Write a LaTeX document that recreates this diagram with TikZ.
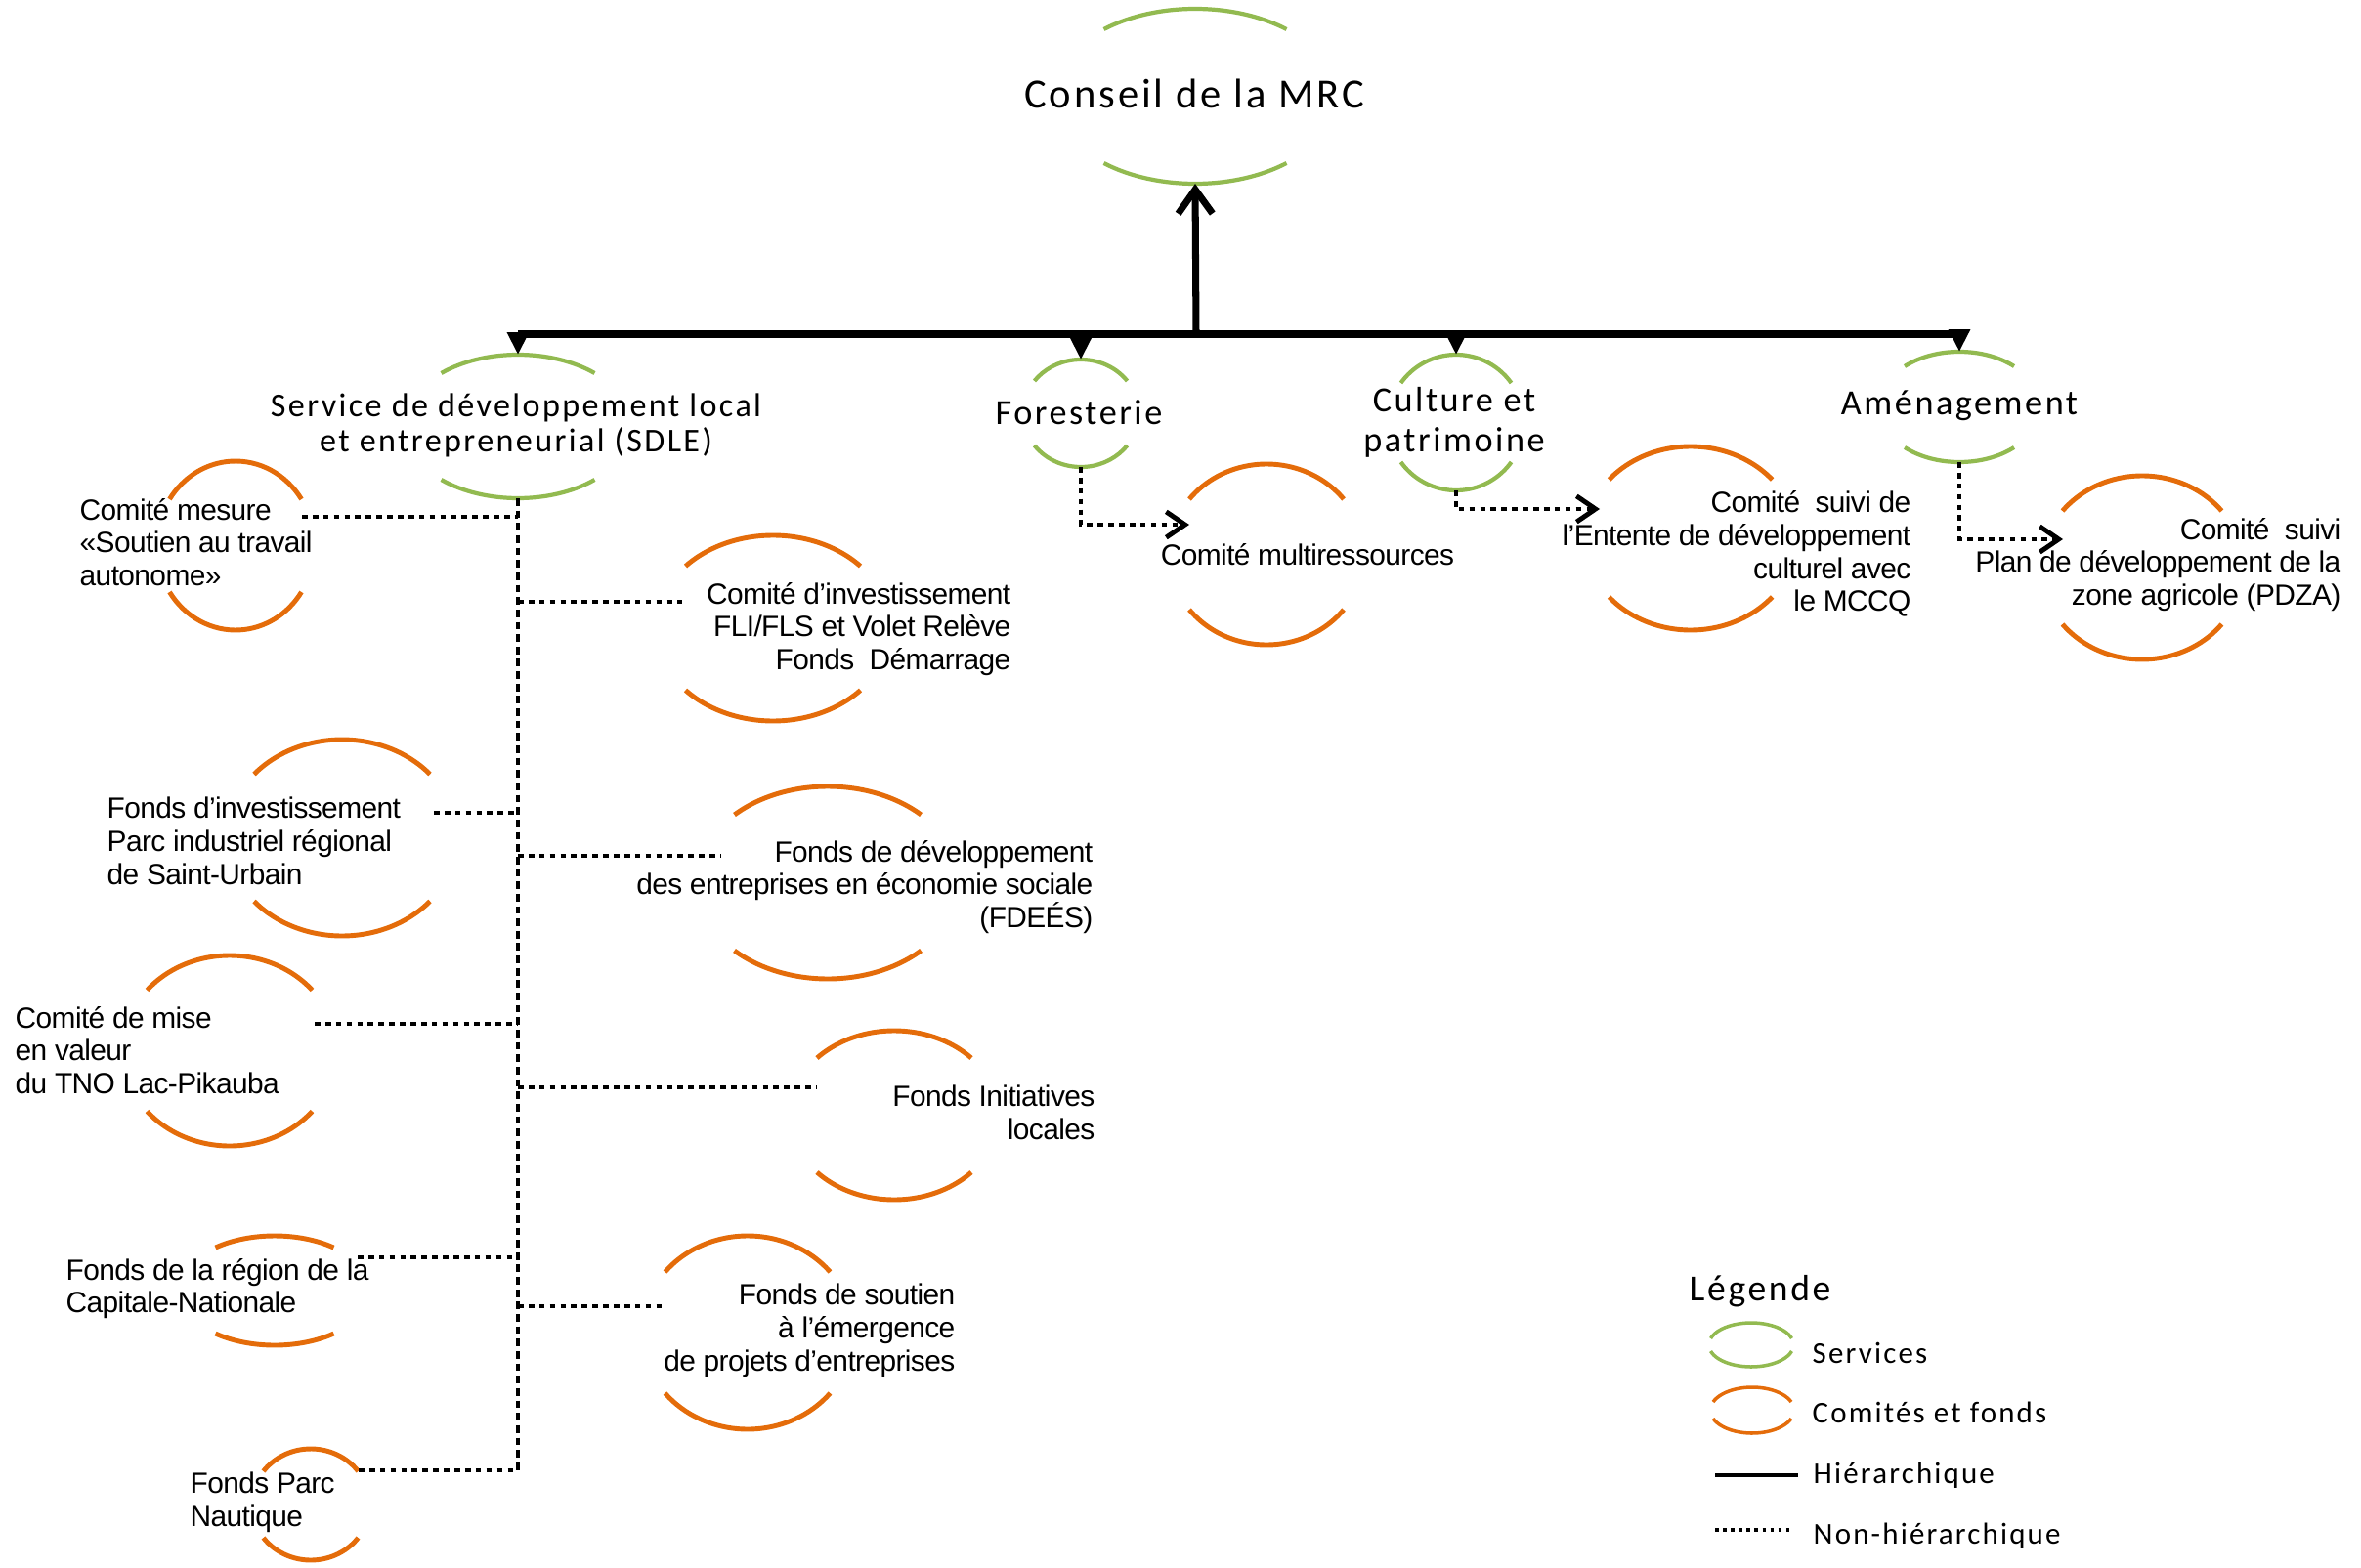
\documentclass[tikz,border=0pt]{standalone}
\usepackage{fontspec}
\usetikzlibrary{arrows.meta,calc}
\newfontfamily\calib[LetterSpace=7]{Carlito}
\newfontfamily\arialf[LetterSpace=-2]{Liberation Sans}
\definecolor{sgreen}{RGB}{146,186,80}
\definecolor{sorange}{RGB}{228,108,10}
% #1 name, #2 cx, #3 cy, #4 half width, #5 ry, #6 sagitta, #7 style
\newcommand{\lensarcs}[7]{%
  \pgfmathsetmacro{\lensphi}{acos((#5-#6)/#5)}%
  \pgfmathsetmacro{\lensrx}{#4/sin(\lensphi)}%
  \coordinate (#1) at (#2,#3);
  \draw[#7] (#1) ++({90-\lensphi}:{\lensrx} and {#5}) arc[start angle={90-\lensphi}, end angle={90+\lensphi}, x radius=\lensrx, y radius=#5];
  \draw[#7] (#1) ++({270-\lensphi}:{\lensrx} and {#5}) arc[start angle={270-\lensphi}, end angle={270+\lensphi}, x radius=\lensrx, y radius=#5];
  \coordinate (#1-n) at ($(#1)+(0,#5)$);
  \coordinate (#1-s) at ($(#1)-(0,#5)$);
}
\tikzset{
  grn/.style={draw=sgreen, line width=1.2pt},
  org/.style={draw=sorange, line width=1.4pt},
  hier/.style={line width=2pt, draw=black},
  nonhier/.style={line width=1.4pt, draw=black, dash pattern=on 1.6pt off 1.5pt},
  gtext/.style={font={\calib\fontsize{10.3pt}{11.7pt}\selectfont}, inner sep=0pt, align=center, text=black},
  otext/.style={font={\arialf\fontsize{8.5pt}{9.6pt}\selectfont}, inner sep=0pt, text=black},
  ltext/.style={font={\calib\fontsize{8.8pt}{10pt}\selectfont}, inner sep=0pt, anchor=west, text=black},
  downtip/.style={-{Triangle[length=6.5pt,width=6pt]}},
  chev/.style={-{Straight Barb[length=5.5pt,width=7.5pt]}},
}
\begin{document}
\begin{tikzpicture}
\useasboundingbox (0,0) rectangle (24.16,-16.05);

% ---------- services (green) ----------
\lensarcs{conseil}{12.23}{-0.985}{0.935}{0.895}{0.21}{grn}
\lensarcs{sdle}{5.30}{-4.365}{0.785}{0.735}{0.19}{grn}
\lensarcs{forest}{11.06}{-4.23}{0.475}{0.55}{0.22}{grn}
\lensarcs{culture}{14.90}{-4.325}{0.565}{0.695}{0.29}{grn}
\lensarcs{amenag}{20.05}{-4.165}{0.56}{0.565}{0.15}{grn}

\node[gtext, font={\calib\fontsize{12.1pt}{14pt}\selectfont}] (t-conseil) at (12.22,-0.96) {Conseil de la MRC};
\node[gtext, font={\calib\fontsize{9.7pt}{10.2pt}\selectfont}] (t-sdle) at (5.28,-4.35) {Service de développement local\\et entrepreneurial (SDLE)};
\node[gtext] (t-forest) at (11.04,-4.22) {Foresterie};
\node[gtext] (t-culture) at (14.88,-4.32) {Culture et\\patrimoine};
\node[gtext] (t-amenag) at (20.05,-4.15) {Aménagement};

% ---------- comités et fonds (orange) ----------
\lensarcs{cm}{2.41}{-5.585}{0.675}{0.865}{0.39}{org}
\lensarcs{cfli}{7.91}{-6.43}{0.895}{0.95}{0.315}{org}
\lensarcs{fipi}{3.50}{-8.575}{0.90}{1.005}{0.355}{org}
\lensarcs{fdees}{8.47}{-9.035}{0.955}{0.985}{0.29}{org}
\lensarcs{cmv}{2.35}{-10.755}{0.845}{0.975}{0.355}{org}
\lensarcs{fil}{9.15}{-11.415}{0.79}{0.865}{0.28}{org}
\lensarcs{frcn}{2.81}{-13.21}{0.605}{0.56}{0.12}{org}
\lensarcs{fse}{7.65}{-13.64}{0.845}{0.99}{0.37}{org}
\lensarcs{fpn}{3.18}{-15.40}{0.485}{0.57}{0.23}{org}
\lensarcs{cmr}{12.96}{-5.675}{0.79}{0.925}{0.36}{org}
\lensarcs{cse}{17.30}{-5.51}{0.835}{0.94}{0.34}{org}
\lensarcs{cpdza}{21.92}{-5.81}{0.815}{0.94}{0.36}{org}

\node[otext, anchor=west, align=left] (t-cm) at (0.81,-5.55) {Comité mesure\\«Soutien au travail\\autonome»};
\node[otext, anchor=east, align=right] (t-cfli) at (10.35,-6.44) {Comité d’investissement\\FLI/FLS et Volet Relève\\Fonds~~Démarrage};
\node[otext, anchor=west, align=left] (t-fipi) at (1.09,-8.61) {Fonds d’investissement\\Parc industriel régional\\de Saint-Urbain};
\node[otext, anchor=east, align=right] (t-fdees) at (11.19,-9.08) {Fonds de développement\\des entreprises en économie sociale\\(FDEÉS)};
\node[otext, anchor=west, align=left] (t-cmv) at (0.15,-10.75) {Comité de mise\\en valeur\\du TNO Lac-Pikauba};
\node[otext, anchor=east, align=right] (t-fil) at (11.21,-11.39) {Fonds Initiatives\\locales};
\node[otext, anchor=west, align=left] (t-frcn) at (0.67,-13.19) {Fonds de la région de la\\Capitale-Nationale};
\node[otext, anchor=east, align=right] (t-fse) at (9.78,-13.62) {Fonds de soutien\\à l’émergence\\de projets d’entreprises};
\node[otext, anchor=west, align=left] (t-fpn) at (1.94,-15.38) {Fonds Parc\\Nautique};
\node[otext] (t-cmr) at (13.38,-5.68) {Comité multiressources};
\node[otext, anchor=east, align=right] (t-cse) at (19.56,-5.67) {Comité~~suivi de\\l’Entente de développement\\culturel avec\\le MCCQ};
\node[otext, anchor=east, align=right] (t-cpdza) at (23.96,-5.78) {Comité~~suivi\\Plan de développement de la\\zone agricole (PDZA)};

% ---------- hierarchical connectors ----------
\coordinate (hub) at (12.24,-3.42);
\draw[hier, -{Straight Barb[length=7pt,width=10pt]}] (hub) -- (conseil-s);
\draw[hier] (sdle-n |- hub) -- (amenag-n |- hub);
\draw[hier, line width=1.6pt, downtip] (sdle-n |- hub) -- (sdle-n);
\draw[hier, line width=1.6pt, downtip] (forest-n |- hub) -- (forest-n);
\draw[hier, line width=1.6pt, downtip] (culture-n |- hub) -- (culture-n);
\draw[hier, line width=1.6pt, downtip] (amenag-n |- hub) -- (amenag-n);

% ---------- non-hierarchical connectors ----------
\coordinate (trunk-end) at (5.30,-15.05);
\draw[nonhier, dash pattern=on 2.2pt off 1.4pt] (sdle-s) -- (trunk-end);
\coordinate (cm-e) at (3.09,-5.29);
\coordinate (cfli-w) at (6.98,-6.16);
\coordinate (fipi-e) at (4.44,-8.32);
\coordinate (fdees-w) at (7.38,-8.76);
\coordinate (cmv-e) at (3.22,-10.48);
\coordinate (fil-w) at (8.36,-11.13);
\coordinate (frcn-e) at (3.66,-12.87);
\coordinate (fse-w) at (6.80,-13.37);
\coordinate (fpn-e) at (3.67,-15.05);
\draw[nonhier] (cm-e) -- (cm-e -| sdle-s);
\draw[nonhier] (cfli-w -| sdle-s) -- (cfli-w);
\draw[nonhier] (fipi-e) -- (fipi-e -| sdle-s);
\draw[nonhier] (fdees-w -| sdle-s) -- (fdees-w);
\draw[nonhier] (cmv-e) -- (cmv-e -| sdle-s);
\draw[nonhier] (fil-w -| sdle-s) -- (fil-w);
\draw[nonhier] (frcn-e) -- (frcn-e -| sdle-s);
\draw[nonhier] (fse-w -| sdle-s) -- (fse-w);
\draw[nonhier] (fpn-e) -- (trunk-end);

\coordinate (cmr-w) at (12.17,-5.37);
\coordinate (cse-w) at (16.37,-5.21);
\coordinate (cpdza-w) at (21.11,-5.52);
\draw[nonhier, chev] (forest-s) |- (cmr-w);
\draw[nonhier, chev] (culture-s) |- (cse-w);
\draw[nonhier, chev] (amenag-s) |- (cpdza-w);

% ---------- legend ----------
\node[ltext, font={\calib\fontsize{10.7pt}{12pt}\selectfont}] (l-title) at (17.28,-13.22) {Légende};
\lensarcs{lg}{17.92}{-13.765}{0.415}{0.225}{0.16}{grn, line width=1pt}
\lensarcs{lo}{17.93}{-14.435}{0.40}{0.235}{0.15}{org, line width=1pt}
\node[ltext] (l-serv) at (18.54,-13.85) {Services};
\node[ltext] (l-comf) at (18.54,-14.46) {Comités et fonds};
\coordinate (lh-a) at (17.55,-15.10);
\coordinate (lh-b) at (18.40,-15.10);
\draw[line width=1.4pt] (lh-a) -- (lh-b);
\node[ltext] (l-hier) at (18.55,-15.10) {Hiérarchique};
\coordinate (ln-a) at (17.55,-15.66);
\coordinate (ln-b) at (18.35,-15.66);
\draw[line width=1pt, dash pattern=on 1pt off 1.3pt] (ln-a) -- (ln-b);
\node[ltext] (l-nonh) at (18.55,-15.72) {Non-hiérarchique};
\end{tikzpicture}
\end{document}
